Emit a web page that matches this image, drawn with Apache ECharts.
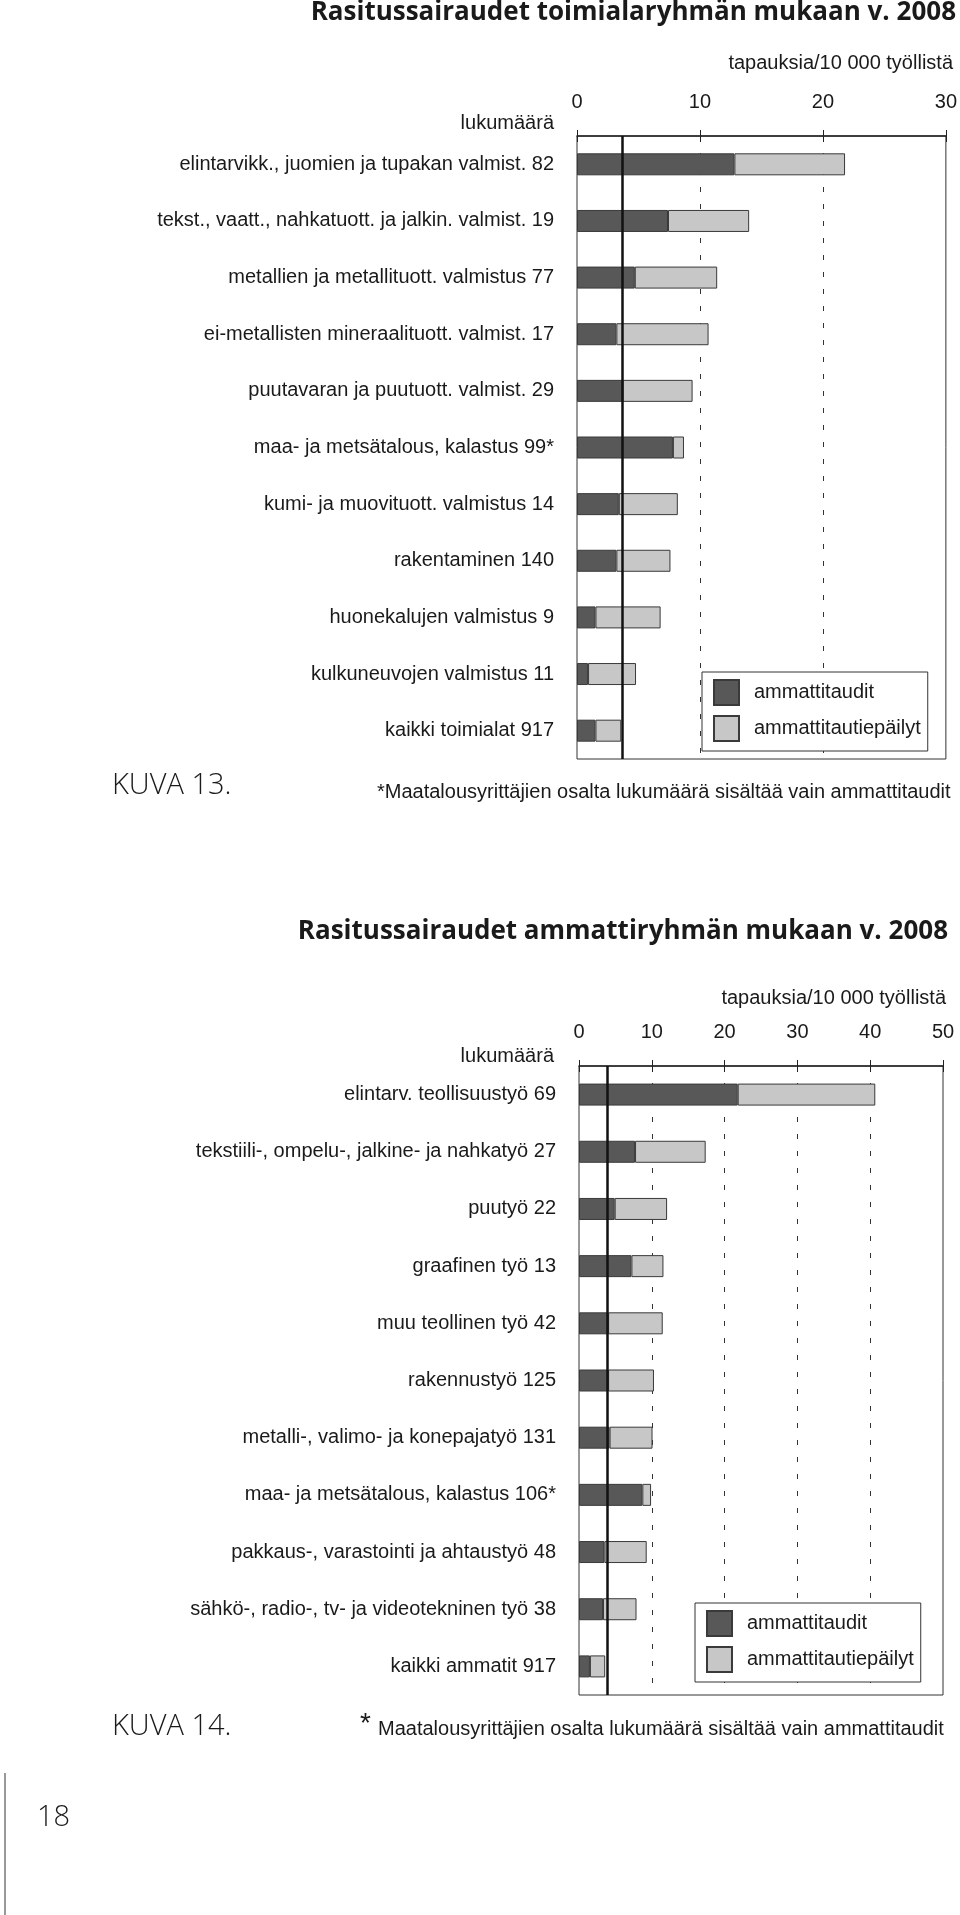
<!DOCTYPE html>
<html>
<head>
<meta charset="utf-8">
<script src="https://cdn.jsdelivr.net/npm/echarts@6/dist/echarts.min.js"></script>
<style>
  html, body { margin: 0; padding: 0; background: #fff; }
  #main { width: 960px; height: 1915px; }
</style>
</head>
<body>
<div id="main"></div>
<script>
// kuva 13: toimialat
var toimialat = [
  'elintarvikk., juomien ja tupakan valmist. 82',
  'tekst., vaatt., nahkatuott. ja jalkin. valmist. 19',
  'metallien ja metallituott. valmistus 77',
  'ei-metallisten mineraalituott. valmist. 17',
  'puutavaran ja puutuott. valmist. 29',
  'maa- ja metsätalous, kalastus 99*',
  'kumi- ja muovituott. valmistus 14',
  'rakentaminen 140',
  'huonekalujen valmistus 9',
  'kulkuneuvojen valmistus 11',
  'kaikki toimialat 917'
];
var toimialaTaudit =   [12.8, 7.4, 4.7, 3.2, 3.7, 7.8, 3.4, 3.2, 1.5, 0.9, 1.5];
var toimialaEpailyt =  [9.0, 6.6, 6.7, 7.5, 5.7, 0.9, 4.8, 4.4, 5.3, 3.9, 2.1];
var toimialaKeskiarvo = 3.7;
var toimialaTicks = [0, 30];

// kuva 14: ammattiryhmät
var ammatit = [
  'elintarv. teollisuustyö 69',
  'tekstiili-, ompelu-, jalkine- ja nahkatyö 27',
  'puutyö 22',
  'graafinen työ 13',
  'muu teollinen työ 42',
  'rakennustyö 125',
  'metalli-, valimo- ja konepajatyö 131',
  'maa- ja metsätalous, kalastus 106*',
  'pakkaus-, varastointi ja ahtaustyö 48',
  'sähkö-, radio-, tv- ja videotekninen työ 38',
  'kaikki ammatit 917'
];
var ammattiTaudit =  [21.8, 7.7, 4.9, 7.2, 4.0, 4.0, 4.2, 8.7, 3.5, 3.3, 1.5];
var ammattiEpailyt = [18.9, 9.7, 7.2, 4.4, 7.5, 6.3, 5.9, 1.2, 5.8, 4.6, 2.1];
var ammattiKeskiarvo = 3.9;
var ammattiTicks = [0, 50];

var sarjat = ['ammattitaudit', 'ammattitautiepäilyt'];

var FONT = 'Liberation Sans, Arial, sans-serif';
var TXT = '#1a1a1a';
var DARK = '#585858';
var LIGHT = '#c7c7c7';

var chart = echarts.init(document.getElementById('main'), null, { renderer: 'canvas' });

function xAxisFor(idx, ticks) {
  return {
    gridIndex: idx, type: 'value', position: 'top',
    min: ticks[0], max: ticks[1], interval: 10,
    axisLine: { show: true, lineStyle: { color: '#222', width: 1.5 } },
    axisTick: { show: true, length: 6, lineStyle: { color: '#222' } },
    axisLabel: { fontFamily: FONT, fontSize: 20, color: TXT, margin: 24 },
    splitLine: { show: true, showMinLine: false, showMaxLine: false,
      lineStyle: { color: '#333', width: 1, type: [5, 12] } }
  };
}
// same scale again, only for the tick halves below the axis line
function innerTicksFor(idx, ticks) {
  return {
    gridIndex: idx, type: 'value', position: 'top',
    min: ticks[0], max: ticks[1], interval: 10,
    axisLine: { show: false }, axisLabel: { show: false }, splitLine: { show: false },
    axisTick: { show: true, inside: true, length: 6, lineStyle: { color: '#222' } }
  };
}
function yAxisFor(idx, cats) {
  return {
    gridIndex: idx, type: 'category', data: cats, inverse: true,
    axisLine: { show: false }, axisTick: { show: false },
    axisLabel: { fontFamily: FONT, fontSize: 20, color: TXT, margin: 23 }
  };
}
function barsFor(idx, taudit, epailyt, avg) {
  return [
    { name: sarjat[0], type: 'bar', stack: 's' + idx, xAxisIndex: idx, yAxisIndex: idx,
      barWidth: 22, data: taudit,
      itemStyle: { color: DARK, borderColor: '#3a3a3a', borderWidth: 1 },
      markLine: { silent: true, symbol: 'none', animation: false,
        label: { show: false },
        lineStyle: { color: '#111', width: 2.5, type: 'solid' },
        data: [{ xAxis: avg }] } },
    { name: sarjat[1], type: 'bar', stack: 's' + idx, xAxisIndex: idx, yAxisIndex: idx,
      barWidth: 22, data: epailyt,
      itemStyle: { color: LIGHT, borderColor: '#3a3a3a', borderWidth: 1 } }
  ];
}
function legendFor(left, top) {
  return {
    data: sarjat, orient: 'vertical', left: left, top: top, icon: 'rect',
    itemWidth: 25, itemHeight: 25, itemGap: 9, padding: [7, 7, 9, 11],
    borderColor: '#333', borderWidth: 1, backgroundColor: '#fff',
    selectedMode: false,
    textStyle: { fontFamily: FONT, fontSize: 20, color: TXT, padding: [0, 0, 0, 10] }
  };
}
function txt(x, y, s, align, style) {
  return { type: 'text', x: x, y: y, silent: true,
    style: Object.assign({ text: s, fill: TXT, font: '20px ' + FONT,
      textAlign: align, textVerticalAlign: 'middle' }, style || {}) };
}

var TITLEFONT = 'bold 26px "Open Sans", "Noto Sans", sans-serif';
var KUVAFONT = '300 29px "Open Sans", "Noto Sans", sans-serif';

chart.setOption({
  animation: false,
  grid: [
    { left: 577, top: 136, width: 373, height: 623, show: true, borderColor: '#333', borderWidth: 1 },
    { left: 579, top: 1066, width: 364, height: 629, show: true, borderColor: '#333', borderWidth: 1 }
  ],
  xAxis: [xAxisFor(0, toimialaTicks), xAxisFor(1, ammattiTicks),
    innerTicksFor(0, toimialaTicks), innerTicksFor(1, ammattiTicks)],
  yAxis: [yAxisFor(0, toimialat), yAxisFor(1, ammatit)],
  legend: [legendFor(702, 672), legendFor(695, 1603)],
  series: barsFor(0, toimialaTaudit, toimialaEpailyt, toimialaKeskiarvo)
    .concat(barsFor(1, ammattiTaudit, ammattiEpailyt, ammattiKeskiarvo)),
  graphic: [
    txt(956, 13, 'Rasitussairaudet toimialaryhmän mukaan v. 2008', 'right', { font: TITLEFONT }),
    txt(953, 63, 'tapauksia/10 000 työllistä', 'right'),
    txt(554, 123, 'lukumäärä', 'right'),
    txt(112, 786, 'KUVA 13.', 'left', { font: KUVAFONT }),
    txt(377, 792, '*Maatalousyrittäjien osalta lukumäärä sisältää vain ammattitaudit', 'left'),

    txt(948, 932, 'Rasitussairaudet ammattiryhmän mukaan v. 2008', 'right', { font: TITLEFONT }),
    txt(946, 998, 'tapauksia/10 000 työllistä', 'right'),
    txt(554, 1056, 'lukumäärä', 'right'),
    txt(112, 1727, 'KUVA 14.', 'left', { font: KUVAFONT }),
    txt(360, 1724, '*', 'left', { font: '28px ' + FONT }),
    txt(378, 1729, 'Maatalousyrittäjien osalta lukumäärä sisältää vain ammattitaudit', 'left'),

    { type: 'line', silent: true, shape: { x1: 5, y1: 1773, x2: 5, y2: 1915 },
      style: { stroke: '#555', lineWidth: 1.2 } },
    txt(37, 1818, '18', 'left', { font: KUVAFONT })
  ]
});
</script>
</body>
</html>
